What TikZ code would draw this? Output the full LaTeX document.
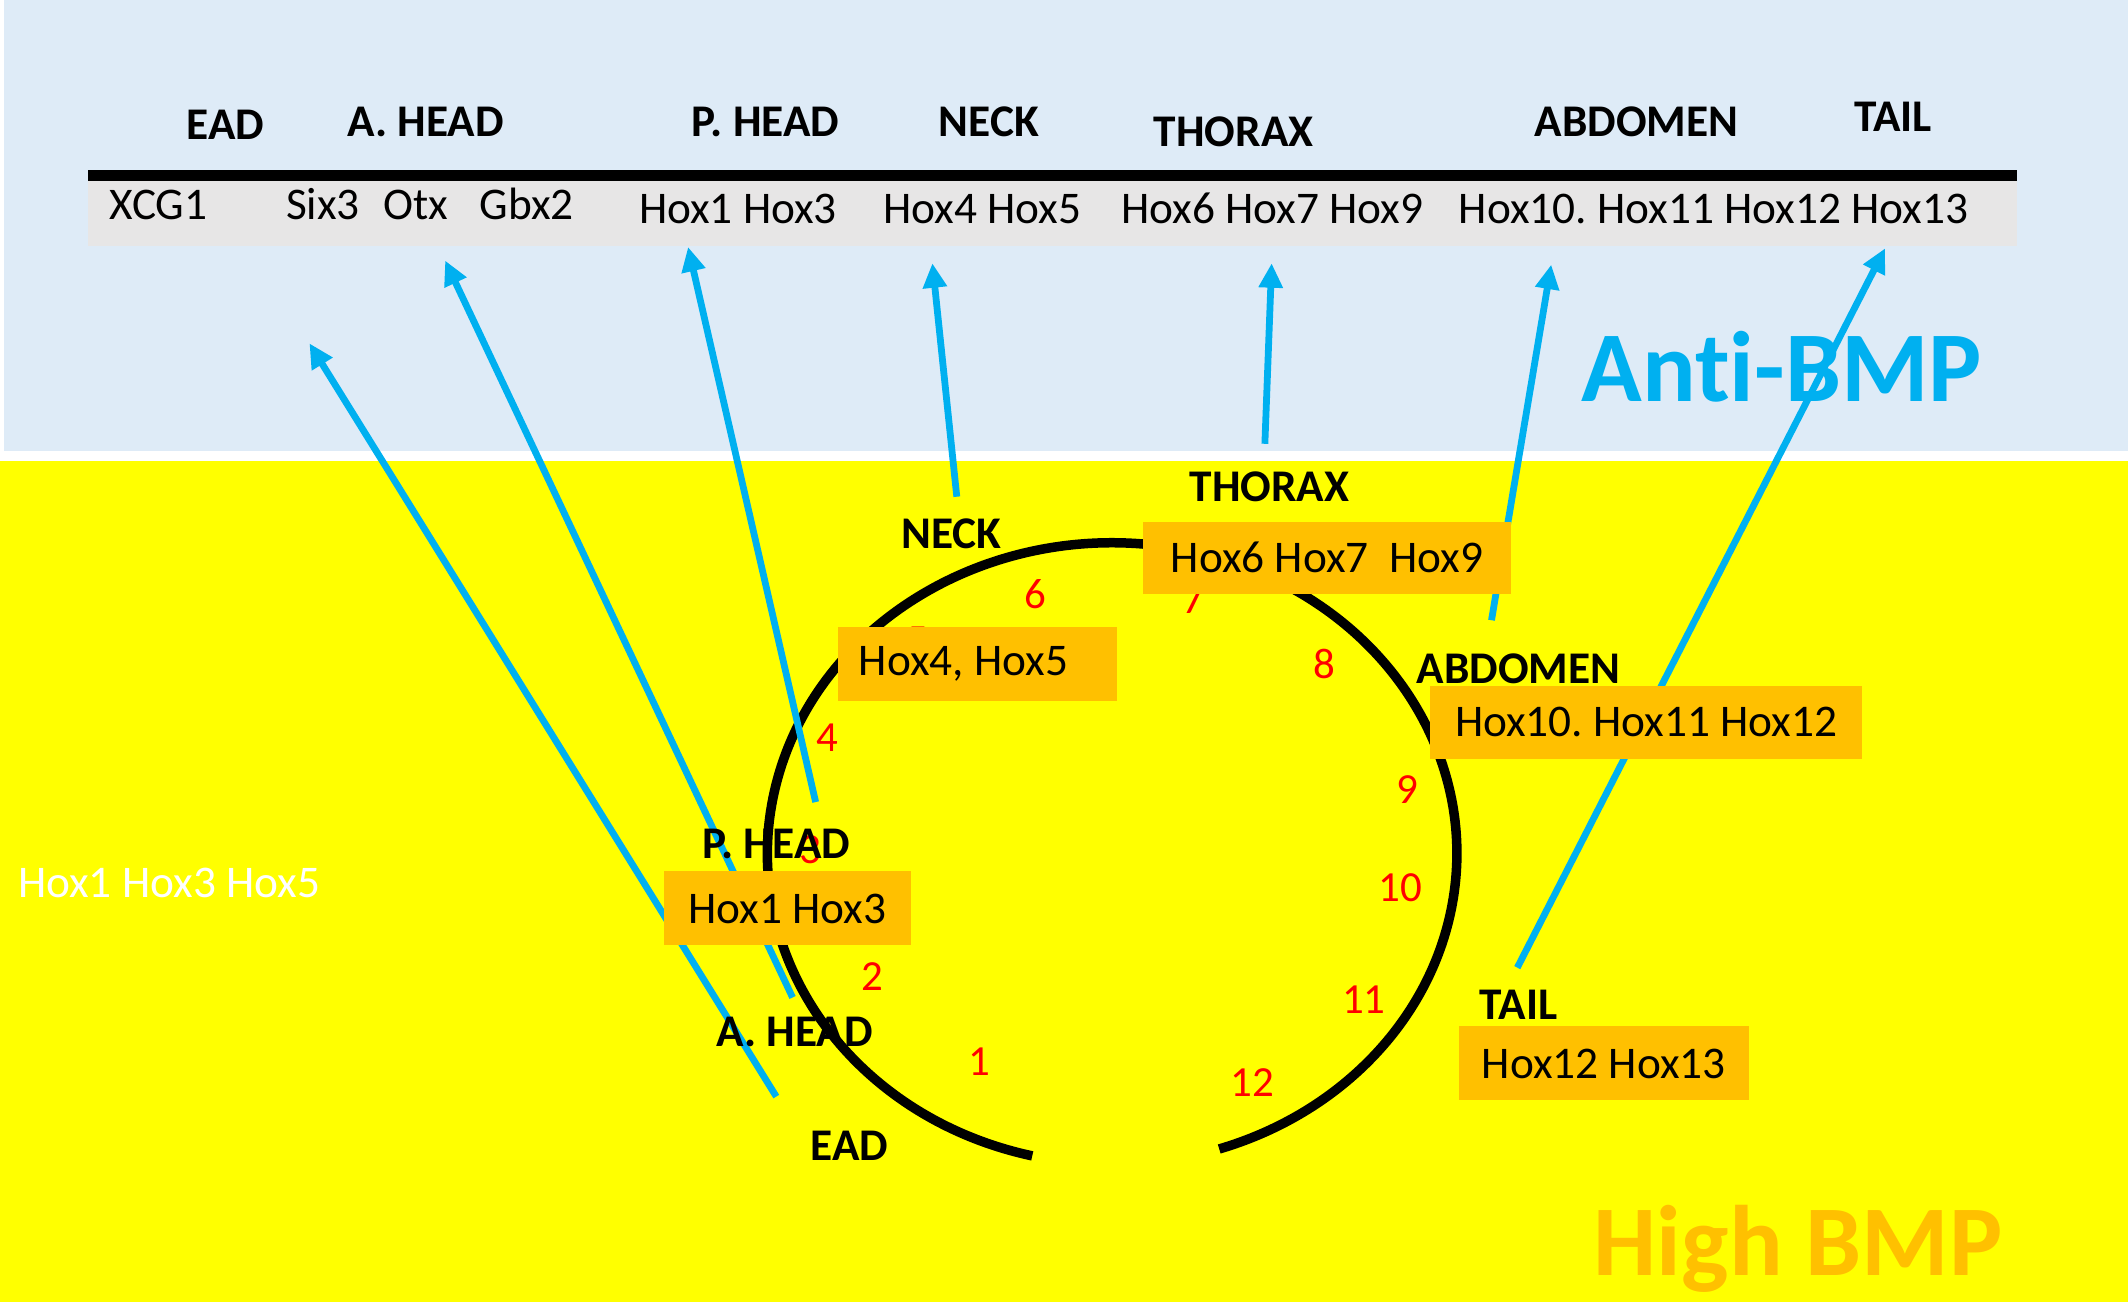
\documentclass[tikz,border=0pt]{standalone}
\usepackage{fontspec}
\setmainfont{Carlito}[Ligatures={CommonOff,ContextualOff}, Contextuals=AlternateOff]
\usetikzlibrary{arrows.meta}
\definecolor{panelblue}{RGB}{222,235,247}
\definecolor{bandgrey}{RGB}{231,230,230}
\definecolor{bmpyellow}{RGB}{255,255,0}
\definecolor{hoxorange}{RGB}{255,192,0}
\definecolor{linkblue}{RGB}{0,176,240}
\frenchspacing

\begin{document}
\begin{tikzpicture}[x=0.02cm, y=-0.02cm,
            region label/.style={font=\fontsize{19}{22}\selectfont\bfseries, inner sep=0pt, anchor=base},
            gene label/.style={font=\fontsize{19}{22}\selectfont, inner sep=0pt, anchor=base west},
            num label/.style={font=\fontsize{18}{21}\selectfont, text=red, inner sep=0pt, anchor=base},
            hox box/.style={fill=hoxorange, font=\fontsize{19}{22}\selectfont, inner sep=0pt, anchor=north west},
            bmp label/.style={font=\fontsize{42}{48}\selectfont\bfseries, inner sep=0pt, anchor=base west},
            map arrow/.style={draw=linkblue, line width=0.1cm, -{Triangle[length=0.36cm, width=0.34cm]}},
            ]
            \useasboundingbox (0,0) rectangle (1568,959);
            \fill[panelblue] (3,0) rectangle (1568,332);
            \fill[bmpyellow] (0,340) rectangle (1568,959);
            \fill[bandgrey] (65,133) rectangle (1486,181);
            \draw[line width=0.16cm] (65,129.5) -- (1486,129.5);

            \node[region label] (ead) at (166,103) {EAD};
            \node[region label] (ahead) at (313.6,100.7) {A. HEAD};
            \node[region label] (phead) at (564,100.7) {P. HEAD};
            \node[region label] (neck) at (728.6,100.7) {NECK};
            \node[region label] (thorax) at (909,108) {THORAX};
            \node[region label] (abdomen) at (1206,100.7) {ABDOMEN};
            \node[region label] (tail) at (1395,97) {TAIL};

            \node[gene label] (xcg) at (80.5,162) {XCG1};
            \node[gene label] (six) at (210.5,162) {Six3};
            \node[gene label] (otx) at (282,162) {Otx};
            \node[gene label] (gbx) at (353,162) {Gbx2};
            \node[gene label] (hox ph) at (470.5,164.5) {Hox1 Hox3};
            \node[gene label] (hox nk) at (650.4,164.5) {Hox4 Hox5};
            \node[gene label] (hox th) at (826,164.5) {Hox6 Hox7 Hox9};
            \node[gene label] (hox ab) at (1074.6,164.5) {Hox10. Hox11 Hox12 Hox13};

            \node[bmp label, text=linkblue] (anti) at (1165,296) {Anti-BMP};
            \node[bmp label, text=hoxorange] (high) at (1174,939.6) {High BMP};
            \node[gene label, text=white] (ventral) at (13,661.3) {Hox1 Hox3 Hox5};

            \draw[line width=0.14cm] (760.6,851.7) arc[start angle=103.4, end angle=431.9, x radius=254, y radius=229];

            \node[num label] (n1) at (722,792.2) {1};
            \node[num label] (n2) at (643,729.6) {2};
            \node[num label] (n3) at (597,636) {3};
            \node[num label] (n4) at (610,554) {4};
            \node[num label] (n5) at (676,482) {5};
            \node[num label] (n6) at (762.6,448.3) {6};
            \node[num label] (n7) at (879,452) {7};
            \node[num label] (n8) at (976,500) {8};
            \node[num label] (n9) at (1036.7,592) {9};
            \node[num label] (n10) at (1032,664.5) {10};
            \node[num label] (n11) at (1005,746.7) {11};
            \node[num label] (n12) at (922.7,808) {12};

            \coordinate (ead low) at (572,808);
            \coordinate (ead top) at (228,253);
            \coordinate (ahead low) at (584,735);
            \coordinate (ahead top) at (328,192);
            \coordinate (phead low) at (601,591);
            \coordinate (phead top) at (507,182);
            \coordinate (neck low) at (705,366);
            \coordinate (neck top) at (687,194);
            \coordinate (thorax low) at (932,327);
            \coordinate (thorax top) at (937,194);
            \coordinate (abdomen low) at (1099,457);
            \coordinate (abdomen top) at (1143,195);
            \coordinate (tail low) at (1118,713);
            \coordinate (tail top) at (1389,183);

            \draw[map arrow] (ead low) -- (ead top);
            \draw[map arrow] (ahead low) -- (ahead top);
            \draw[map arrow] (phead low) -- (phead top);
            \draw[map arrow] (neck low) -- (neck top);
            \draw[map arrow] (thorax low) -- (thorax top);
            \draw[map arrow] (abdomen low) -- (abdomen top);
            \draw[map arrow] (tail low) -- (tail top);

            \node[hox box, minimum width=4.12cm, minimum height=1.08cm, text width=3.5cm, inner xsep=0.31cm, align=flush left] (box nk) at (617,462) {Hox4, Hox5};
            \node[hox box, minimum width=5.42cm, minimum height=1.06cm] (box th) at (842,384) {Hox6 Hox7\ \ Hox9};
            \node[hox box, minimum width=6.37cm, minimum height=1.08cm] (box ab) at (1053.4,505) {Hox10. Hox11 Hox12};
            \node[hox box, minimum width=3.64cm, minimum height=1.09cm] (box ph) at (488.7,641.8) {Hox1 Hox3};
            \node[hox box, minimum width=4.27cm, minimum height=1.09cm] (box tl) at (1074.7,756) {Hox12 Hox13};

            \node[region label] (thorax lab) at (935.5,369.7) {THORAX};
            \node[region label] (neck lab) at (701,404) {NECK};
            \node[region label] (abdomen lab) at (1118.8,503.3) {ABDOMEN};
            \node[region label] (phead lab) at (572,632.4) {P. HEAD};
            \node[region label] (ahead lab) at (585.6,771.4) {A. HEAD};
            \node[region label] (tail lab) at (1119,751) {TAIL};
            \node[region label] (ead lab) at (626,855) {EAD};
        \end{tikzpicture}
\end{document}
